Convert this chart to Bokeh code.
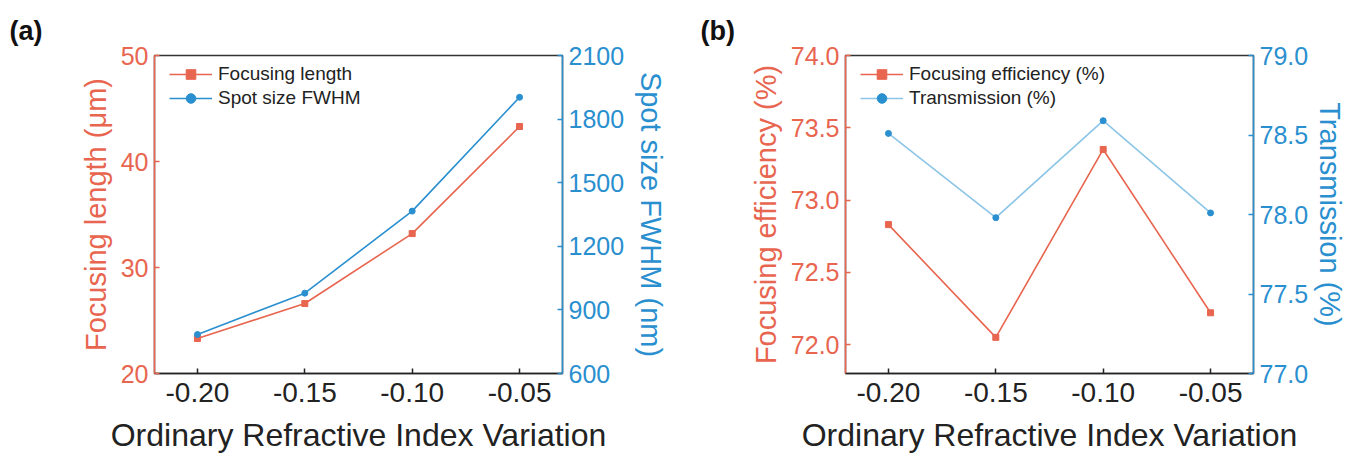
from bokeh.plotting import figure
from bokeh.models import (Range1d, LinearAxis, FixedTicker, NumeralTickFormatter,
                          Legend, LegendItem)
from bokeh.layouts import row
from bokeh.embed import file_html
from bokeh.resources import INLINE

# ---------------- data ----------------
x_vals = [-0.20, -0.15, -0.10, -0.05]
x_ticks = [-0.20, -0.15, -0.10, -0.05]

focus_length = [23.3, 26.6, 33.2, 43.3]          # µm
spot_fwhm = [784, 979, 1366, 1903]               # nm
focus_eff = [72.83, 72.05, 73.35, 72.22]         # %
transmission = [78.51, 77.98, 78.59, 78.01]      # %

left_ticks_a = [20, 30, 40, 50]
right_ticks_a = [600, 900, 1200, 1500, 1800, 2100]
left_ticks_b = [72.0, 72.5, 73.0, 73.5, 74.0]
right_ticks_b = [77.0, 77.5, 78.0, 78.5, 79.0]

# ---------------- style ----------------
RED = "#E8654F"
BLUE = "#2A8FCF"
LIGHTBLUE = "#8CC5E6"
FONT = "Liberation Sans"
X_LABEL = "Ordinary Refractive Index Variation"

FRAME_W = 408
FRAME_H = 318
TOP = 55
BOTTOM = 78


def style_axis(ax, color, tick_size, label_size, standoff=8, label_standoff=8):
    ax.axis_line_color = color
    ax.axis_line_width = 1.5
    ax.major_tick_line_color = color
    ax.major_tick_line_width = 1.5
    ax.major_tick_in = 5
    ax.major_tick_out = 0
    ax.minor_tick_line_color = None
    ax.major_label_text_color = color
    ax.major_label_text_font = FONT
    ax.major_label_text_font_size = tick_size
    ax.major_label_standoff = standoff
    ax.axis_label_text_color = color
    ax.axis_label_text_font = FONT
    ax.axis_label_text_font_size = label_size
    ax.axis_label_text_font_style = "normal"
    ax.axis_label_standoff = label_standoff


def make_panel(tag, tag_offset, y_left, y_right, left_rng, right_rng, left_ticks, right_ticks,
               left_label, right_label, left_fmt, right_fmt, names,
               border_left, border_right, right_line_color, right_label_standoff):
    p = figure(frame_width=FRAME_W, frame_height=FRAME_H,
               x_range=Range1d(-0.22, -0.03), y_range=Range1d(*left_rng),
               output_backend="svg", toolbar_location=None,
               min_border_left=border_left, min_border_right=border_right,
               min_border_top=TOP, min_border_bottom=BOTTOM,
               y_axis_location="left", title=tag)
    p.title.align = "left"
    p.title.offset = tag_offset
    p.title.text_font = FONT
    p.title.text_font_size = "27px"
    p.title.text_font_style = "bold"
    p.title.text_color = "#111111"
    p.title.standoff = 20

    p.extra_y_ranges = {"r": Range1d(*right_rng)}
    p.xgrid.visible = False
    p.ygrid.visible = False
    p.outline_line_color = "#333333"
    p.outline_line_width = 1.5
    p.background_fill_color = "white"
    p.border_fill_color = "white"

    # bottom axis
    xa = p.xaxis[0]
    xa.ticker = FixedTicker(ticks=x_ticks)
    xa.formatter = NumeralTickFormatter(format="0.00")
    xa.axis_label = X_LABEL
    style_axis(xa, "#222222", "28px", "32px", standoff=9, label_standoff=12)
    xa.major_label_text_color = "#222222"
    xa.axis_label_text_color = "#222222"

    # left axis
    ya = p.yaxis[0]
    ya.ticker = FixedTicker(ticks=left_ticks)
    ya.formatter = NumeralTickFormatter(format=left_fmt)
    ya.axis_label = left_label
    style_axis(ya, RED, "25px", "29px", standoff=6, label_standoff=6)

    # right axis
    yr = LinearAxis(y_range_name="r")
    yr.ticker = FixedTicker(ticks=right_ticks)
    yr.formatter = NumeralTickFormatter(format=right_fmt)
    yr.axis_label = right_label
    style_axis(yr, BLUE, "25px", "29px", standoff=6, label_standoff=right_label_standoff)
    p.add_layout(yr, "right")

    # data
    l1 = p.line(x_vals, y_left, line_color=RED, line_width=1.6)
    m1 = p.scatter(x_vals, y_left, marker="square", size=6,
                   fill_color=RED, line_color=RED)
    l2 = p.line(x_vals, y_right, line_color=right_line_color, line_width=1.6,
                y_range_name="r")
    m2 = p.scatter(x_vals, y_right, marker="circle", size=6,
                   fill_color=BLUE, line_color=BLUE, y_range_name="r")

    legend = Legend(items=[LegendItem(label=names[0], renderers=[l1, m1]),
                           LegendItem(label=names[1], renderers=[l2, m2])],
                    location=(15, FRAME_H - 7 - 48))
    legend.label_text_font = FONT
    legend.label_text_font_size = "19px"
    legend.label_text_color = "#222222"
    legend.glyph_width = 43
    legend.glyph_height = 24
    legend.label_height = 24
    legend.label_standoff = 6
    legend.padding = 0
    legend.margin = 0
    legend.spacing = 0
    legend.border_line_alpha = 0
    legend.background_fill_alpha = 0
    p.add_layout(legend, "center")
    return p


p1 = make_panel("(a)", -145, focus_length, spot_fwhm, (20, 50), (600, 2100),
                left_ticks_a, right_ticks_a,
                "Focusing length (\u03bcm)", "Spot size FWHM (nm)",
                "0", "0", ["Focusing length", "Spot size FWHM"],
                154, 116, BLUE, 8)
p2 = make_panel("(b)", -145, focus_eff, transmission, (71.8, 74.0), (77.0, 79.0),
                left_ticks_b, right_ticks_b,
                "Focusing efficiency (%)", "Transmission (%)",
                "0.0", "0.0", ["Focusing efficiency (%)", "Transmission (%)"],
                167, 100, LIGHTBLUE, 3)

layout = row(p1, p2)
open("out.html", "w").write(file_html(layout, INLINE))
